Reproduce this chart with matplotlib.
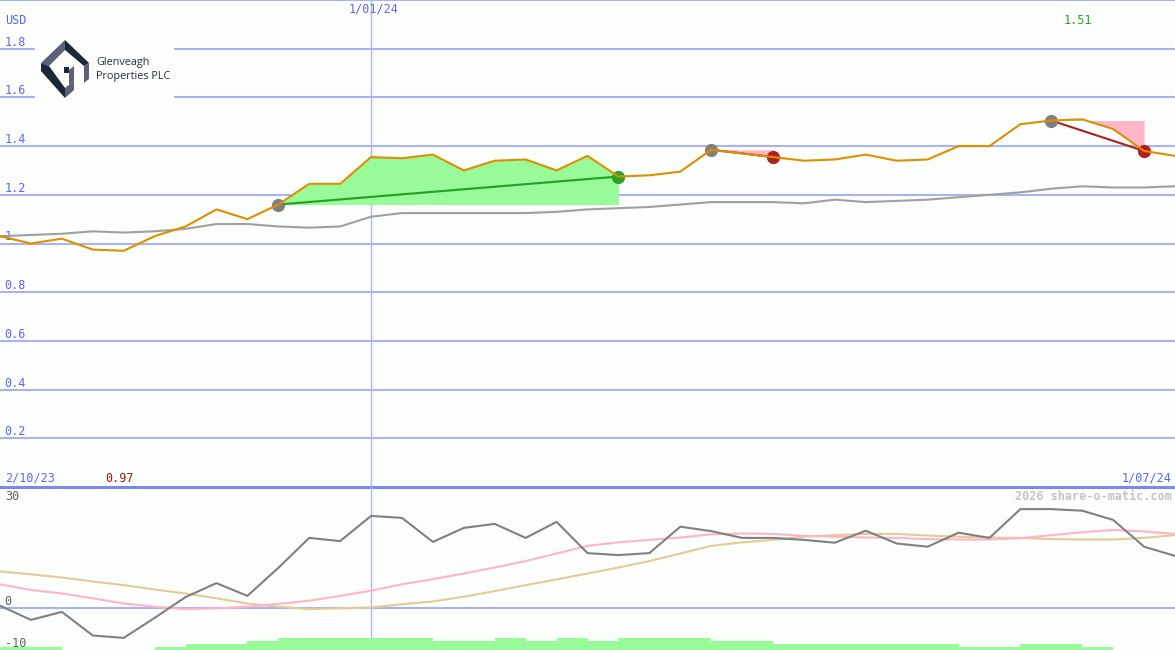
import matplotlib
matplotlib.use("Agg")
import matplotlib.pyplot as plt
from matplotlib.patches import Polygon, Rectangle
import matplotlib.transforms as mtransforms
import numpy as np

# weekly closes, 2/10/23 .. 1/07/24
price = [1.03, 1.00, 1.02, 0.975, 0.97, 1.03, 1.07, 1.14, 1.10, 1.16,
         1.245, 1.245, 1.355, 1.35, 1.365, 1.30, 1.34, 1.345, 1.30, 1.36,
         1.275, 1.28, 1.295, 1.385, 1.37, 1.355, 1.34, 1.345, 1.365, 1.34,
         1.345, 1.40, 1.40, 1.49, 1.505, 1.51, 1.47, 1.38, 1.36]
avg = [1.03, 1.035, 1.04, 1.05, 1.045, 1.05, 1.06, 1.08, 1.08, 1.07,
       1.065, 1.07, 1.11, 1.125, 1.125, 1.125, 1.125, 1.125, 1.13, 1.14,
       1.145, 1.15, 1.16, 1.17, 1.17, 1.17, 1.165, 1.18, 1.17, 1.175,
       1.18, 1.19, 1.20, 1.21, 1.225, 1.235, 1.23, 1.23, 1.235]

# lower panel
mom = [0.45, -3.1, -1.1, -7.0, -7.6, -2.6, 2.6, 6.1, 2.9, 9.9,
       17.4, 16.6, 22.9, 22.4, 16.4, 19.9, 20.9, 17.4, 21.4, 13.6,
       13.1, 13.6, 20.2, 19.1, 17.4, 17.4, 16.9, 16.2, 19.2, 16.0,
       15.2, 18.7, 17.4, 24.6, 24.6, 24.2, 21.9, 15.2, 12.9]
mom_fast = [5.8, 4.4, 3.5, 2.3, 1.0, 0.2, -0.4, -0.2, 0.2, 0.9,
            1.7, 2.9, 4.2, 5.8, 7.1, 8.5, 10.0, 11.6, 13.5, 15.4,
            16.3, 16.9, 17.5, 18.3, 18.5, 18.4, 17.9, 17.7, 17.5, 17.4,
            17.1, 17.0, 17.0, 17.3, 18.1, 18.8, 19.4, 19.0, 18.4]
mom_slow = [9.0, 8.3, 7.5, 6.5, 5.6, 4.5, 3.5, 2.3, 1.0, 0.2,
            -0.4, -0.2, 0.0, 0.8, 1.5, 2.7, 4.1, 5.6, 7.0, 8.5,
            10.0, 11.6, 13.5, 15.4, 16.3, 16.9, 17.7, 18.1, 18.4, 18.4,
            18.0, 17.7, 17.5, 17.4, 17.1, 17.0, 17.0, 17.4, 18.1]
vol_level = [1, 1, 0, 0, 0, 1, 2, 2, 3, 4, 4, 4, 4, 4, 3, 3, 4, 3, 4,
             3, 4, 4, 4, 3, 3, 2, 2, 2, 2, 2, 2, 1, 1, 2, 2, 1, 0, 0]

# trades: (buy index, sell index)
trade_start = [9, 23, 34]
trade_end = [20, 25, 37]

grid_vals = [0.2, 0.4, 0.6, 0.8, 1.0, 1.2, 1.4, 1.6, 1.8, 2.0]
grid_labels = ["0.2", "0.4", "0.6", "0.8", "1", "1.2", "1.4", "1.6", "1.8"]
x_ny = 12
date_left, date_mid, date_right = "2/10/23", "1/01/24", "1/07/24"

x = np.arange(len(price))
p = np.array(price)

bg = "#fcfefc"
grid_c = "#a8b4f0"
lab_c = "#5868f0"
mono = "DejaVu Sans Mono"

fig = plt.figure(figsize=(11.75, 6.5), dpi=100)
fig.patch.set_facecolor(bg)
ax = fig.add_axes([0, 163 / 650, 1, 487 / 650])
ax2 = fig.add_axes([0, 0, 1, 163 / 650])
for a in (ax, ax2):
    a.set_axis_off()
    a.set_xlim(0, len(price) - 1)
ax.set_ylim(0, 2.0)
ax2.set_ylim(-10.625, 30.125)

# main grid
for v in grid_vals:
    ax.axhline(v, color=grid_c, lw=1.5, zorder=1, clip_on=False)
off = mtransforms.offset_copy(ax.transData, fig=fig, x=0, y=0, units="dots")
for v, s in zip(grid_vals, grid_labels):
    ax.text(0.15, v, s, transform=off, fontsize=8.5, family=mono, color=lab_c,
            va="bottom", ha="left")
ax.text(0.004, 0.958, "USD", transform=ax.transAxes, fontsize=8.5, family=mono,
        color=lab_c, va="center")
ax.axvline(x_ny, color="#a8b8f8", lw=1, zorder=1)
ax2.axvline(x_ny, color="#a8b8f8", lw=1, zorder=1)
ax.text(x_ny + 0.08, 0.981, date_mid, transform=ax.get_xaxis_transform(),
        fontsize=8.5, family=mono, color=lab_c, ha="center", va="center")
ax.text(0.004, 0.018, date_left, transform=ax.transAxes, fontsize=8.5,
        family=mono, color=lab_c, va="center")
ax.text(0.997, 0.018, date_right, transform=ax.transAxes, fontsize=8.5,
        family=mono, color=lab_c, va="center", ha="right")

# trades
for s, e in zip(trade_start, trade_end):
    xs = x[s:e + 1]
    ps = p[s:e + 1]
    lvl = p[s]
    ax.fill_between(xs, ps, lvl, where=ps >= lvl, interpolate=True,
                    color="#98fa98", lw=0, zorder=2)
    ax.fill_between(xs, ps, lvl, where=ps < lvl, interpolate=True,
                    color="#ffb6c8", lw=0, zorder=2)
    win = p[e] > p[s]
    c = "#22a022" if win else "#a82020"
    ax.plot([s, e], [p[s], p[e]], color=c, lw=1.5, zorder=3)
    ax.plot(s, p[s], "o", ms=8.5, color="#808080", zorder=4)
    ax.plot(e, p[e], "o", ms=8.5, color="#2ca02c" if win else "#b02020", zorder=4)

ax.plot(x, avg, color="#a0a0a0", lw=1.5, zorder=3)
ax.plot(x, price, color="#dc9000", lw=1.5, zorder=5)

# high / low
hi = int(np.argmax(p))
lo = int(np.argmin(p))
ax.text(hi - 0.15, 0.957, f"{p[hi]:.2f}", transform=ax.get_xaxis_transform(),
        fontsize=8.5, family=mono, color="#22a022", ha="center", va="center")
ax.text(lo - 0.15, 0.018, f"{p[lo]:.2f}", transform=ax.get_xaxis_transform(),
        fontsize=8.5, family=mono, color="#a01818", ha="center", va="center")

# separator
ax.axhline(0, color="#7888ec", lw=2.2, zorder=6, clip_on=False)

# lower panel
ax2.axhline(0, color=grid_c, lw=1.5, zorder=1)
ax2.plot(x, mom_slow, color="#e3cb98", lw=1.5, zorder=2)
ax2.plot(x, mom_fast, color="#ffb4c8", lw=1.5, zorder=2)
ax2.plot(x, mom, color="#808080", lw=1.5, zorder=3)
ax2.bar(x[:-1], np.array(vol_level) * 0.72, width=1.0, align="edge",
        bottom=-10.625, color="#98fa98", lw=0, zorder=4)
for v, s, yy in [(30, "30", 0.94), (0, "0", 0.295), (-10, "-10", 0.04)]:
    ax2.text(0.004, yy, s, transform=ax2.transAxes, fontsize=8.5, family=mono,
             color="#606060", va="center")
ax2.text(0.997, 0.94, "2026 share-o-matic.com", transform=ax2.transAxes,
         fontsize=8.5, family=mono, color="#c4c4c4", weight="bold",
         ha="right", va="center")

# logo
lax = fig.add_axes([0, 0, 1, 1], zorder=10)
lax.set_axis_off()
lax.set_xlim(0, 1175)
lax.set_ylim(650, 0)
lax.patch.set_alpha(0)
lax.add_patch(Rectangle((35, 37), 139, 64, color=bg, lw=0))
navy = "#1b2838"
slate = "#5b6278"
shapes = [
    ([(41, 63), (65, 40), (65, 50), (49, 66)], slate),
    ([(65, 40), (89, 63), (84, 66), (65, 50)], navy),
    ([(84, 66), (89, 63), (89, 79), (84, 83)], slate),
    ([(41, 63), (49, 66), (65, 88), (65, 98), (41, 71)], navy),
    ([(65, 88), (74, 81), (74, 90), (65, 98)], slate),
    ([(64, 67), (69, 67), (69, 73), (64, 73)], navy),
    ([(69, 70), (74, 66), (74, 81), (69, 85)], slate),
]
for pts, c in shapes:
    lax.add_patch(Polygon(pts, closed=True, color=c, lw=0))
lax.text(96, 63, "Glenveagh", fontsize=7.8, family="Open Sans", color="#283040",
         va="center")
lax.text(96, 76, "Properties PLC", fontsize=7.8, family="Open Sans",
         color="#283040", va="center")

fig.savefig("out.png", dpi=100, facecolor=bg)
